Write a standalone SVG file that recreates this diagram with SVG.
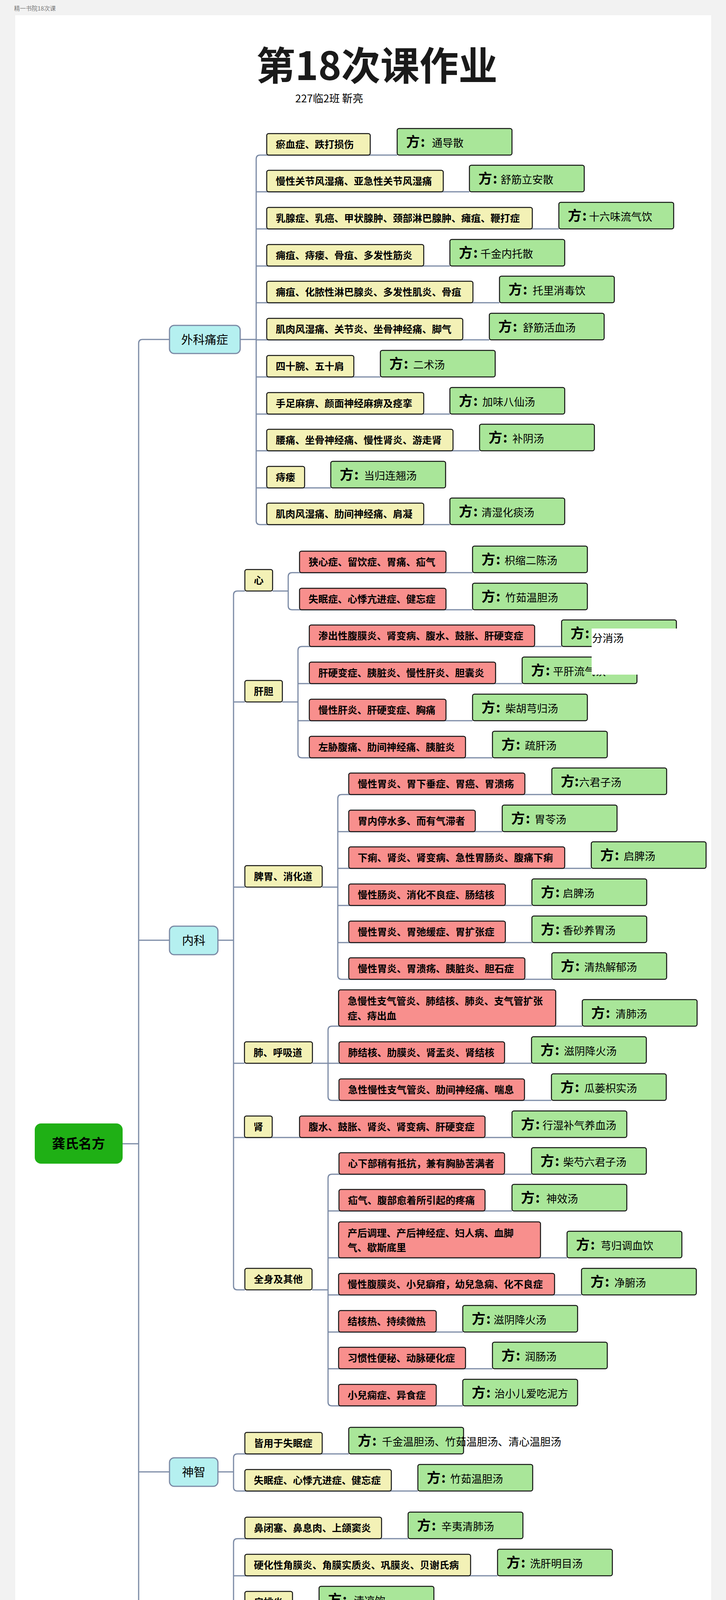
<svg xmlns="http://www.w3.org/2000/svg" width="1859" height="5376" viewBox="0 0 1859 5376">
<style>
text{font-family:"Noto Sans CJK SC","Noto Sans",sans-serif;fill:#000}
.y{fill:#f3f1b6;stroke:#111;stroke-width:2.5}
.r{fill:#f88f8d;stroke:#111;stroke-width:2.5}
.g{fill:#a9e699;stroke:#111;stroke-width:2.5}
.c{fill:#b5f0f0;stroke:#7b8aa5;stroke-width:3}
.t{font-size:25px;font-weight:bold}
.f{font-size:35px;font-weight:bold}
.n{font-size:27px}
.l1{font-size:30px;text-anchor:middle}
.cn{fill:none;stroke:#7b8aa5;stroke-width:3}
.ov{fill:#fff}
</style>
<rect x="0" y="0" width="1859" height="5376" fill="#f2f2f2"/>
<rect x="39" y="39" width="1782" height="5298" fill="#fff"/>
<text x="36" y="27" style="font-size:15px;fill:#777">精一书院18次课</text>
<text x="965" y="205" style="font-size:100px;font-weight:bold;text-anchor:middle;fill:#1a1a1a">第18次课作业</text>
<text x="756" y="262" style="font-size:27px">227临2班  靳亮</text>

<g id="connectors">
<path class="cn" d="M314,2928 H355"/>
<path class="cn" d="M434,869 H365 Q355,869 355,879 V4976 Q355,4986 365,4986 H434"/>
<path class="cn" d="M355,2407 H434 M355,3768 H434 M355,4270 H434"/>
<path class="cn" d="M615,869 H656"/>
<path class="cn" d="M1017,397 H666 Q656,397 656,407 V1333 Q656,1343 666,1343 H1152"/>
<path class="cn" d="M656,491 H1202 M656,586 H1431 M656,681 H1152 M656,775 H1279 M656,870 H1253 M656,965 H974 M656,1060 H1152 M656,1154 H1228 M656,1249 H847"/>
<path class="cn" d="M558,2407 H598"/>
<path class="cn" d="M627,1513 H608 Q598,1513 598,1523 V3292 Q598,3302 608,3302 H627"/>
<path class="cn" d="M598,1797 H627 M598,2271 H627 M598,2722 H626 M598,2912 H1311"/>
<path class="cn" d="M698,1513 H738"/>
<path class="cn" d="M1210,1466 H748 Q738,1466 738,1476 V1551 Q738,1561 748,1561 H1210"/>
<path class="cn" d="M723,1797 H763"/>
<path class="cn" d="M1438,1655 H773 Q763,1655 763,1665 V1930 Q763,1940 773,1940 H1261"/>
<path class="cn" d="M763,1750 H1337 M763,1845 H1210"/>
<path class="cn" d="M825,2271 H865"/>
<path class="cn" d="M1413,2034 H875 Q865,2034 865,2044 V2497 Q865,2507 875,2507 H1413"/>
<path class="cn" d="M865,2129 H1286 M865,2223 H1514 M865,2318 H1362 M865,2413 H1362"/>
<path class="cn" d="M800,2722 H840"/>
<path class="cn" d="M1491,2627 H850 Q840,2627 840,2637 V2807 Q840,2817 850,2817 H1412"/>
<path class="cn" d="M840,2722 H1361"/>
<path class="cn" d="M799,3302 H840"/>
<path class="cn" d="M1361,3006 H850 Q840,3006 840,3016 V3589 Q840,3599 850,3599 H1185"/>
<path class="cn" d="M840,3100 H1311 M840,3220 H1452 M840,3315 H1489 M840,3410 H1185 M840,3504 H1261"/>
<path class="cn" d="M558,3768 H598"/>
<path class="cn" d="M893,3722 H608 Q598,3722 598,3732 V3807 Q598,3817 608,3817 H1070"/>
<path class="cn" d="M558,4270 H598"/>
<path class="cn" d="M1045,3939 H608 Q598,3939 598,3949 V4592 Q598,4602 608,4602 H1375"/>
<path class="cn" d="M598,4034 H1274 M598,4129 H817 M598,4223 H1020 M598,4318 H1096 M598,4413 H918 M598,4507 H918"/>
<path class="cn" d="M558,4986 H598"/>
<path class="cn" d="M1146,4725 H608 Q598,4725 598,4735 V5239 Q598,5249 608,5249 H994"/>
<path class="cn" d="M598,4819 H1096 M598,4940 H1415 M598,5059 H1321 M598,5153 H792"/>
</g>

<g id="root"><rect x="89" y="2876" width="225" height="103" rx="16" fill="#1fb015"/><text x="201" y="2940" style="font-size:34px;font-weight:bold;text-anchor:middle">龚氏名方</text></g>

<g id="c-waike"><rect class="c" x="434" y="833" width="181" height="72" rx="12"/><text class="l1" x="524" y="880">外科痛症</text></g>
<g id="c-neike"><rect class="c" x="434" y="2371" width="124" height="73" rx="12"/><text class="l1" x="496" y="2418">内科</text></g>
<g id="c-shenzhi"><rect class="c" x="434" y="3732" width="124" height="73" rx="12"/><text class="l1" x="496" y="3779">神智</text></g>
<g id="c-wuguan"><rect class="c" x="434" y="4234" width="124" height="73" rx="12"/><text class="l1" x="496" y="4281">五官</text></g>
<g id="c-pifu"><rect class="c" x="434" y="4949" width="124" height="74" rx="12"/><text class="l1" x="496" y="4997">皮肤</text></g>

<!-- 外科痛症 -->
<g id="w1"><rect class="y" x="683" y="342" width="265" height="55" rx="5"/><text class="t" x="706" y="379">瘀血症、跌打损伤</text></g>
<g id="w1f"><rect class="g" x="1017" y="329" width="294" height="68" rx="5"/><text x="1040" y="376"><tspan class="f">方</tspan><tspan class="f" x="1077">:</tspan><tspan class="n" x="1106">通导散</tspan></text></g>
<g id="w2"><rect class="y" x="683" y="436" width="452" height="55" rx="5"/><text class="t" x="706" y="473">慢性关节风湿痛、亚急性关节风湿痛</text></g>
<g id="w2f"><rect class="g" x="1202" y="423" width="294" height="68" rx="5"/><text x="1225" y="470"><tspan class="f">方</tspan><tspan class="f" x="1262">:</tspan><tspan class="n" x="1282">舒筋立安散</tspan></text></g>
<g id="w3"><rect class="y" x="683" y="531" width="680" height="55" rx="5"/><text class="t" x="706" y="568">乳腺症、乳癌、甲状腺肿、颈部淋巴腺肿、瘫疽、鞭打症</text></g>
<g id="w3f"><rect class="g" x="1431" y="518" width="294" height="68" rx="5"/><text x="1454" y="565"><tspan class="f">方</tspan><tspan class="f" x="1491">:</tspan><tspan class="n" x="1508">十六味流气饮</tspan></text></g>
<g id="w4"><rect class="y" x="683" y="626" width="402" height="55" rx="5"/><text class="t" x="706" y="663">痈疽、痔瘘、骨疽、多发性筋炎</text></g>
<g id="w4f"><rect class="g" x="1152" y="613" width="294" height="68" rx="5"/><text x="1175" y="660"><tspan class="f">方</tspan><tspan class="f" x="1212">:</tspan><tspan class="n" x="1230">千金内托散</tspan></text></g>
<g id="w5"><rect class="y" x="683" y="720" width="528" height="55" rx="5"/><text class="t" x="706" y="757">痈疽、化脓性淋巴腺炎、多发性肌炎、骨疽</text></g>
<g id="w5f"><rect class="g" x="1279" y="707" width="294" height="68" rx="5"/><text x="1302" y="754"><tspan class="f">方</tspan><tspan class="f" x="1339">:</tspan><tspan class="n" x="1364">托里消毒饮</tspan></text></g>
<g id="w6"><rect class="y" x="683" y="815" width="502" height="55" rx="5"/><text class="t" x="706" y="852">肌肉风湿痛、关节炎、坐骨神经痛、脚气</text></g>
<g id="w6f"><rect class="g" x="1253" y="802" width="294" height="68" rx="5"/><text x="1276" y="849"><tspan class="f">方</tspan><tspan class="f" x="1313">:</tspan><tspan class="n" x="1339">舒筋活血汤</tspan></text></g>
<g id="w7"><rect class="y" x="683" y="910" width="223" height="55" rx="5"/><text class="t" x="706" y="947">四十腕、五十肩</text></g>
<g id="w7f"><rect class="g" x="974" y="897" width="294" height="68" rx="5"/><text x="997" y="944"><tspan class="f">方</tspan><tspan class="f" x="1034">:</tspan><tspan class="n" x="1058">二术汤</tspan></text></g>
<g id="w8"><rect class="y" x="683" y="1005" width="402" height="55" rx="5"/><text class="t" x="706" y="1042">手足麻痹、颜面神经麻痹及痉挛</text></g>
<g id="w8f"><rect class="g" x="1152" y="992" width="294" height="68" rx="5"/><text x="1175" y="1039"><tspan class="f">方</tspan><tspan class="f" x="1212">:</tspan><tspan class="n" x="1235">加味八仙汤</tspan></text></g>
<g id="w9"><rect class="y" x="683" y="1099" width="477" height="55" rx="5"/><text class="t" x="706" y="1136">腰痛、坐骨神经痛、慢性肾炎、游走肾</text></g>
<g id="w9f"><rect class="g" x="1228" y="1086" width="294" height="68" rx="5"/><text x="1251" y="1133"><tspan class="f">方</tspan><tspan class="f" x="1288">:</tspan><tspan class="n" x="1312">补阴汤</tspan></text></g>
<g id="w10"><rect class="y" x="683" y="1194" width="97" height="55" rx="5"/><text class="t" x="706" y="1231">痔瘘</text></g>
<g id="w10f"><rect class="g" x="847" y="1181" width="294" height="68" rx="5"/><text x="870" y="1228"><tspan class="f">方</tspan><tspan class="f" x="907">:</tspan><tspan class="n" x="932">当归连翘汤</tspan></text></g>
<g id="w11"><rect class="y" x="683" y="1288" width="402" height="55" rx="5"/><text class="t" x="706" y="1325">肌肉风湿痛、肋间神经痛、肩凝</text></g>
<g id="w11f"><rect class="g" x="1152" y="1275" width="294" height="68" rx="5"/><text x="1175" y="1322"><tspan class="f">方</tspan><tspan class="f" x="1212">:</tspan><tspan class="n" x="1233">清湿化痰汤</tspan></text></g>

<!-- 内科 L2 -->
<g id="l2-xin"><rect class="y" x="627" y="1458" width="71" height="55" rx="5"/><text class="t" x="650" y="1495">心</text></g>
<g id="l2-gandan"><rect class="y" x="627" y="1742" width="96" height="55" rx="5"/><text class="t" x="650" y="1779">肝胆</text></g>
<g id="l2-piwei"><rect class="y" x="627" y="2216" width="198" height="55" rx="5"/><text class="t" x="650" y="2253">脾胃、消化道</text></g>
<g id="l2-fei"><rect class="y" x="626" y="2667" width="174" height="55" rx="5"/><text class="t" x="649" y="2704">肺、呼吸道</text></g>
<g id="l2-shen"><rect class="y" x="626" y="2857" width="71" height="55" rx="5"/><text class="t" x="649" y="2894">肾</text></g>
<g id="l2-quanshen"><rect class="y" x="627" y="3247" width="172" height="55" rx="5"/><text class="t" x="650" y="3284">全身及其他</text></g>

<!-- 心 -->
<g id="x1"><rect class="r" x="767" y="1411" width="375" height="55" rx="5"/><text class="t" x="790" y="1448">狭心症、留饮症、胃痛、疝气</text></g>
<g id="x1f"><rect class="g" x="1210" y="1398" width="294" height="68" rx="5"/><text x="1233" y="1445"><tspan class="f">方</tspan><tspan class="f" x="1270">:</tspan><tspan class="n" x="1292">枳缩二陈汤</tspan></text></g>
<g id="x2"><rect class="r" x="767" y="1506" width="375" height="55" rx="5"/><text class="t" x="790" y="1543">失眠症、心悸亢进症、健忘症</text></g>
<g id="x2f"><rect class="g" x="1210" y="1493" width="294" height="68" rx="5"/><text x="1233" y="1540"><tspan class="f">方</tspan><tspan class="f" x="1270">:</tspan><tspan class="n" x="1294">竹茹温胆汤</tspan></text></g>

<!-- 肝胆 -->
<g id="gd1"><rect class="r" x="792" y="1600" width="577" height="55" rx="5"/><text class="t" x="815" y="1637">渗出性腹膜炎、肾变病、腹水、鼓胀、肝硬变症</text></g>
<g id="gd1f"><rect class="g" x="1438" y="1587" width="294" height="68" rx="5"/><text x="1461" y="1634"><tspan class="f">方</tspan><tspan class="f" x="1498">:</tspan></text></g>
<g id="gd2"><rect class="r" x="792" y="1695" width="477" height="55" rx="5"/><text class="t" x="815" y="1732">肝硬变症、胰脏炎、慢性肝炎、胆囊炎</text></g>
<g id="gd2f"><rect class="g" x="1337" y="1682" width="294" height="68" rx="5"/><text x="1360" y="1729"><tspan class="f">方</tspan><tspan class="f" x="1397">:</tspan><tspan class="n" x="1416">平肝流气饮</tspan></text></g>
<g id="ov1"><rect class="ov" x="1515" y="1609" width="232" height="118"/><text class="n" x="1516" y="1644">分消汤</text></g>
<g id="gd3"><rect class="r" x="792" y="1790" width="350" height="55" rx="5"/><text class="t" x="815" y="1827">慢性肝炎、肝硬变症、胸痛</text></g>
<g id="gd3f"><rect class="g" x="1210" y="1777" width="294" height="68" rx="5"/><text x="1233" y="1824"><tspan class="f">方</tspan><tspan class="f" x="1270">:</tspan><tspan class="n" x="1294">柴胡芎归汤</tspan></text></g>
<g id="gd4"><rect class="r" x="792" y="1885" width="400" height="55" rx="5"/><text class="t" x="815" y="1922">左胁腹痛、肋间神经痛、胰脏炎</text></g>
<g id="gd4f"><rect class="g" x="1261" y="1872" width="294" height="68" rx="5"/><text x="1284" y="1919"><tspan class="f">方</tspan><tspan class="f" x="1321">:</tspan><tspan class="n" x="1344">疏肝汤</tspan></text></g>

<!-- 脾胃 -->
<g id="pw1"><rect class="r" x="893" y="1979" width="451" height="55" rx="5"/><text class="t" x="916" y="2016">慢性胃炎、胃下垂症、胃癌、胃溃疡</text></g>
<g id="pw1f"><rect class="g" x="1413" y="1966" width="294" height="68" rx="5"/><text x="1436" y="2013"><tspan class="f">方</tspan><tspan class="f" x="1471">:</tspan><tspan class="n" x="1483">六君子汤</tspan></text></g>
<g id="pw2"><rect class="r" x="893" y="2074" width="324" height="55" rx="5"/><text class="t" x="916" y="2111">胃内停水多、而有气滞者</text></g>
<g id="pw2f"><rect class="g" x="1286" y="2061" width="294" height="68" rx="5"/><text x="1309" y="2108"><tspan class="f">方</tspan><tspan class="f" x="1346">:</tspan><tspan class="n" x="1369">胃苓汤</tspan></text></g>
<g id="pw3"><rect class="r" x="893" y="2168" width="553" height="55" rx="5"/><text class="t" x="916" y="2205">下痢、肾炎、肾变病、急性胃肠炎、腹痛下痢</text></g>
<g id="pw3f"><rect class="g" x="1514" y="2155" width="294" height="68" rx="5"/><text x="1537" y="2202"><tspan class="f">方</tspan><tspan class="f" x="1574">:</tspan><tspan class="n" x="1597">启脾汤</tspan></text></g>
<g id="pw4"><rect class="r" x="893" y="2263" width="401" height="55" rx="5"/><text class="t" x="916" y="2300">慢性肠炎、消化不良症、肠结核</text></g>
<g id="pw4f"><rect class="g" x="1362" y="2250" width="294" height="68" rx="5"/><text x="1385" y="2297"><tspan class="f">方</tspan><tspan class="f" x="1422">:</tspan><tspan class="n" x="1441">启脾汤</tspan></text></g>
<g id="pw5"><rect class="r" x="893" y="2358" width="401" height="55" rx="5"/><text class="t" x="916" y="2395">慢性胃炎、胃弛缓症、胃扩张症</text></g>
<g id="pw5f"><rect class="g" x="1362" y="2345" width="294" height="68" rx="5"/><text x="1385" y="2392"><tspan class="f">方</tspan><tspan class="f" x="1422">:</tspan><tspan class="n" x="1441">香砂养胃汤</tspan></text></g>
<g id="pw6"><rect class="r" x="893" y="2452" width="451" height="55" rx="5"/><text class="t" x="916" y="2489">慢性胃炎、胃溃疡、胰脏炎、胆石症</text></g>
<g id="pw6f"><rect class="g" x="1413" y="2439" width="294" height="68" rx="5"/><text x="1436" y="2486"><tspan class="f">方</tspan><tspan class="f" x="1473">:</tspan><tspan class="n" x="1496">清热解郁汤</tspan></text></g>

<!-- 肺 -->
<g id="f1"><rect class="r" x="867" y="2534" width="556" height="93" rx="5"/><text class="t" x="890" y="2572">急慢性支气管炎、肺结核、肺炎、支气管扩张</text><text class="t" x="890" y="2610">症、痔出血</text></g>
<g id="f1f"><rect class="g" x="1491" y="2559" width="294" height="68" rx="5"/><text x="1514" y="2606"><tspan class="f">方</tspan><tspan class="f" x="1551">:</tspan><tspan class="n" x="1576">清肺汤</tspan></text></g>
<g id="f2"><rect class="r" x="868" y="2667" width="424" height="55" rx="5"/><text class="t" x="891" y="2704">肺结核、肋膜炎、肾盂炎、肾结核</text></g>
<g id="f2f"><rect class="g" x="1361" y="2654" width="294" height="68" rx="5"/><text x="1384" y="2701"><tspan class="f">方</tspan><tspan class="f" x="1421">:</tspan><tspan class="n" x="1444">滋阴降火汤</tspan></text></g>
<g id="f3"><rect class="r" x="868" y="2762" width="475" height="55" rx="5"/><text class="t" x="891" y="2799">急性慢性支气管炎、肋间神经痛、喘息</text></g>
<g id="f3f"><rect class="g" x="1412" y="2749" width="294" height="68" rx="5"/><text x="1435" y="2796"><tspan class="f">方</tspan><tspan class="f" x="1472">:</tspan><tspan class="n" x="1496">瓜蒌枳实汤</tspan></text></g>

<!-- 肾 -->
<g id="s1"><rect class="r" x="767" y="2857" width="475" height="55" rx="5"/><text class="t" x="790" y="2894">腹水、鼓胀、肾炎、肾变病、肝硬变症</text></g>
<g id="s1f"><rect class="g" x="1311" y="2844" width="294" height="68" rx="5"/><text x="1334" y="2891"><tspan class="f">方</tspan><tspan class="f" x="1371">:</tspan><tspan class="n" x="1389">行湿补气养血汤</tspan></text></g>

<!-- 全身及其他 -->
<g id="q1"><rect class="r" x="868" y="2951" width="424" height="55" rx="5"/><text class="t" x="891" y="2988">心下部稍有抵抗，兼有胸胁苦满者</text></g>
<g id="q1f"><rect class="g" x="1361" y="2938" width="294" height="68" rx="5"/><text x="1384" y="2985"><tspan class="f">方</tspan><tspan class="f" x="1421">:</tspan><tspan class="n" x="1442">柴芍六君子汤</tspan></text></g>
<g id="q2"><rect class="r" x="868" y="3045" width="374" height="55" rx="5"/><text class="t" x="891" y="3082">疝气、腹部愈着所引起的疼痛</text></g>
<g id="q2f"><rect class="g" x="1311" y="3032" width="294" height="68" rx="5"/><text x="1334" y="3079"><tspan class="f">方</tspan><tspan class="f" x="1371">:</tspan><tspan class="n" x="1399">神效汤</tspan></text></g>
<g id="q3"><rect class="r" x="867" y="3128" width="517" height="92" rx="5"/><text class="t" x="890" y="3166">产后调理、产后神经症、妇人病、血脚</text><text class="t" x="890" y="3203">气、歇斯底里</text></g>
<g id="q3f"><rect class="g" x="1452" y="3152" width="294" height="68" rx="5"/><text x="1475" y="3199"><tspan class="f">方</tspan><tspan class="f" x="1512">:</tspan><tspan class="n" x="1538">芎归调血饮</tspan></text></g>
<g id="q4"><rect class="r" x="867" y="3260" width="553" height="55" rx="5"/><text class="t" x="890" y="3297">慢性腹膜炎、小兒癖疳，幼兒急痫、化不良症</text></g>
<g id="q4f"><rect class="g" x="1489" y="3247" width="294" height="68" rx="5"/><text x="1512" y="3294"><tspan class="f">方</tspan><tspan class="f" x="1549">:</tspan><tspan class="n" x="1573">净腑汤</tspan></text></g>
<g id="q5"><rect class="r" x="867" y="3355" width="250" height="55" rx="5"/><text class="t" x="890" y="3392">结核热、持续微热</text></g>
<g id="q5f"><rect class="g" x="1185" y="3342" width="294" height="68" rx="5"/><text x="1208" y="3389"><tspan class="f">方</tspan><tspan class="f" x="1245">:</tspan><tspan class="n" x="1264">滋阴降火汤</tspan></text></g>
<g id="q6"><rect class="r" x="867" y="3449" width="325" height="55" rx="5"/><text class="t" x="890" y="3486">习惯性便秘、动脉硬化症</text></g>
<g id="q6f"><rect class="g" x="1261" y="3436" width="294" height="68" rx="5"/><text x="1284" y="3483"><tspan class="f">方</tspan><tspan class="f" x="1321">:</tspan><tspan class="n" x="1344">润肠汤</tspan></text></g>
<g id="q7"><rect class="r" x="867" y="3544" width="250" height="55" rx="5"/><text class="t" x="890" y="3581">小兒痫症、异食症</text></g>
<g id="q7f"><rect class="g" x="1185" y="3531" width="294" height="68" rx="5"/><text x="1208" y="3578"><tspan class="f">方</tspan><tspan class="f" x="1245">:</tspan><tspan class="n" x="1266">治小儿爱吃泥方</tspan></text></g>

<!-- 神智 -->
<g id="sz1"><rect class="y" x="627" y="3667" width="198" height="55" rx="5"/><text class="t" x="650" y="3704">皆用于失眠症</text></g>
<g id="sz1f"><rect class="g" x="893" y="3654" width="294" height="68" rx="5"/><text x="916" y="3701"><tspan class="f">方</tspan><tspan class="f" x="953">:</tspan><tspan class="n" x="978">千金温胆汤、竹茹温胆汤、清心温胆汤</tspan></text></g>
<g id="sz2"><rect class="y" x="627" y="3762" width="375" height="55" rx="5"/><text class="t" x="650" y="3799">失眠症、心悸亢进症、健忘症</text></g>
<g id="sz2f"><rect class="g" x="1070" y="3749" width="294" height="68" rx="5"/><text x="1093" y="3796"><tspan class="f">方</tspan><tspan class="f" x="1130">:</tspan><tspan class="n" x="1153">竹茹温胆汤</tspan></text></g>

<!-- 五官 -->
<g id="wg1"><rect class="y" x="627" y="3884" width="350" height="55" rx="5"/><text class="t" x="650" y="3921">鼻闭塞、鼻息肉、上颌窦炎</text></g>
<g id="wg1f"><rect class="g" x="1045" y="3871" width="294" height="68" rx="5"/><text x="1068" y="3918"><tspan class="f">方</tspan><tspan class="f" x="1105">:</tspan><tspan class="n" x="1130">辛夷清肺汤</tspan></text></g>
<g id="wg2"><rect class="y" x="627" y="3979" width="578" height="55" rx="5"/><text class="t" x="650" y="4016">硬化性角膜炎、角膜实质炎、巩膜炎、贝谢氏病</text></g>
<g id="wg2f"><rect class="g" x="1274" y="3966" width="294" height="68" rx="5"/><text x="1297" y="4013"><tspan class="f">方</tspan><tspan class="f" x="1334">:</tspan><tspan class="n" x="1357">洗肝明目汤</tspan></text></g>
<g id="wg3"><rect class="y" x="627" y="4074" width="122" height="55" rx="5"/><text class="t" x="650" y="4111">扁桃炎</text></g>
<g id="wg3f"><rect class="g" x="817" y="4061" width="294" height="68" rx="5"/><text x="840" y="4108"><tspan class="f">方</tspan><tspan class="f" x="877">:</tspan><tspan class="n" x="906">清凉饮</tspan></text></g>
<g id="wg4"><rect class="y" x="627" y="4168" width="325" height="55" rx="5"/><text class="t" x="650" y="4205">视力障碍、弱视、白内障</text></g>
<g id="wg4f"><rect class="g" x="1020" y="4155" width="294" height="68" rx="5"/><text x="1043" y="4202"><tspan class="f">方</tspan><tspan class="f" x="1080">:</tspan><tspan class="n" x="1102">滋肾明目汤</tspan></text></g>
<g id="wg5"><rect class="y" x="627" y="4263" width="401" height="55" rx="5"/><text class="t" x="650" y="4300">慢性中耳炎、耳鸣、重听、耳漏</text></g>
<g id="wg5f"><rect class="g" x="1096" y="4250" width="294" height="68" rx="5"/><text x="1119" y="4297"><tspan class="f">方</tspan><tspan class="f" x="1156">:</tspan><tspan class="n" x="1175">蔓荆子散</tspan></text></g>
<g id="wg6"><rect class="y" x="627" y="4358" width="223" height="55" rx="5"/><text class="t" x="650" y="4395">咽喉炎、扁桃炎</text></g>
<g id="wg6f"><rect class="g" x="918" y="4345" width="294" height="68" rx="5"/><text x="941" y="4392"><tspan class="f">方</tspan><tspan class="f" x="978">:</tspan><tspan class="n" x="1003">驱风解毒汤</tspan></text></g>
<g id="wg7"><rect class="y" x="627" y="4452" width="223" height="55" rx="5"/><text class="t" x="650" y="4489">声音不出、嗄声</text></g>
<g id="wg7f"><rect class="g" x="918" y="4439" width="294" height="68" rx="5"/><text x="941" y="4486"><tspan class="f">方</tspan><tspan class="f" x="978">:</tspan><tspan class="n" x="1006">响声破笛丸</tspan></text></g>
<g id="wg8"><rect class="y" x="627" y="4547" width="680" height="55" rx="5"/><text class="t" x="650" y="4584">诸头痛、上颌窦肿痛、偏头痛、三叉神经痛、脑肿疡之痛</text></g>
<g id="wg8f"><rect class="g" x="1375" y="4534" width="294" height="68" rx="5"/><text x="1398" y="4581"><tspan class="f">方</tspan><tspan class="f" x="1435">:</tspan><tspan class="n" x="1461">清上蠲痛汤</tspan></text></g>

<!-- 皮肤 -->
<g id="pf1"><rect class="y" x="627" y="4670" width="451" height="55" rx="5"/><text class="t" x="650" y="4707">头部湿疹、颜面充血、面疮、酒渣鼻</text></g>
<g id="pf1f"><rect class="g" x="1146" y="4657" width="294" height="68" rx="5"/><text x="1169" y="4704"><tspan class="f">方</tspan><tspan class="f" x="1206">:</tspan><tspan class="n" x="1233">清上防风汤</tspan></text></g>
<g id="pf2"><rect class="y" x="627" y="4764" width="401" height="55" rx="5"/><text class="t" x="650" y="4801">诸出血、皮肤发痒症、贝谢氏病</text></g>
<g id="pf2f"><rect class="g" x="1096" y="4751" width="294" height="68" rx="5"/><text x="1119" y="4798"><tspan class="f">方</tspan><tspan class="f" x="1156">:</tspan><tspan class="n" x="1182">温清饮  黄解散</tspan></text></g>
<g id="pf3"><rect class="y" x="627" y="4846" width="720" height="94" rx="5"/><text class="t" x="650" y="4884">诸出血、皮肤瘙痒症、慢性湿疹、寻常性乾癣、掌蹠（zhi）</text><text class="t" x="650" y="4922">脓疱症、贝谢氏症候群</text></g>
<g id="pf3f"><rect class="g" x="1415" y="4872" width="294" height="68" rx="5"/><text x="1438" y="4919"><tspan class="f">方</tspan><tspan class="f" x="1475">:</tspan></text></g>
<g id="pf4"><rect class="y" x="627" y="4966" width="625" height="93" rx="5"/><text class="t" x="650" y="5004">较十味败毒汤稍微轻症者、痈疽、乳腺炎、头疮、</text><text class="t" x="650" y="5042">荨麻疹、疥癣、蓄脓症、过敏性皮肤</text></g>
<g id="pf4f"><rect class="g" x="1321" y="4991" width="294" height="68" rx="5"/><text x="1344" y="5038"><tspan class="f">方</tspan><tspan class="f" x="1381">:</tspan><tspan class="n" x="1408">荆防败毒散</tspan></text></g>
<g id="ov2"><rect class="ov" x="1502" y="4885" width="218" height="115"/><text class="n" x="1502" y="4921">温清饮</text></g>
<g id="pf5"><rect class="y" x="627" y="5098" width="95" height="55" rx="5"/><text class="t" x="650" y="5135">瘰疬</text></g>
<g id="pf5f"><rect class="g" x="792" y="5085" width="294" height="68" rx="5"/><text x="815" y="5132"><tspan class="f">方</tspan><tspan class="f" x="852">:</tspan><tspan class="n" x="874">散肿溃坚汤</tspan></text></g>
<g id="pf6"><rect class="y" x="627" y="5194" width="299" height="55" rx="5"/><text class="t" x="650" y="5231">麻疹内攻、肺炎、脑症</text></g>
<g id="pf6f"><rect class="g" x="994" y="5181" width="294" height="68" rx="5"/><text x="1017" y="5228"><tspan class="f">方</tspan><tspan class="f" x="1052">:</tspan><tspan class="n" x="1066">二仙汤</tspan></text></g>
</svg>
